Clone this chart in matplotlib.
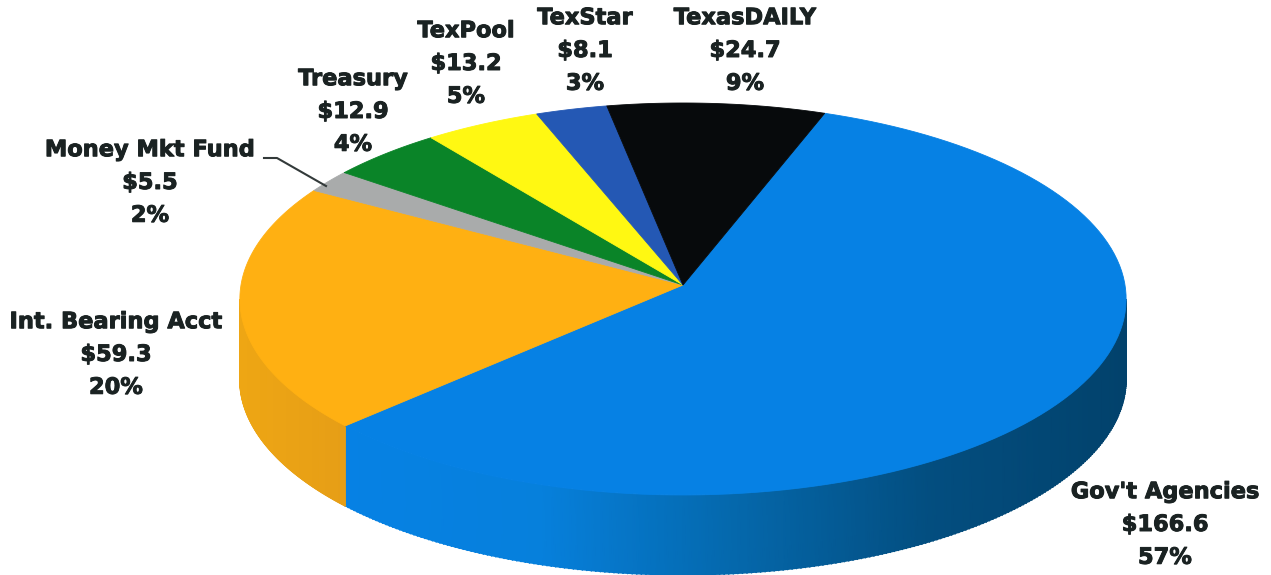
"""Holdings by type, drawn as a tilted 3-D pie with a shaded rim."""

import numpy as np
import matplotlib
matplotlib.use("Agg")
import matplotlib.pyplot as plt
import matplotlib.patheffects as pe
from matplotlib.colors import LinearSegmentedColormap

# clockwise from the start angle
names = ["Gov't Agencies", "Int. Bearing Acct", "Money Mkt Fund", "Treasury",
         "TexPool", "TexStar", "TexasDAILY"]
amounts = [166.6, 59.3, 5.5, 12.9, 13.2, 8.1, 24.7]
shares = [57, 20, 2, 4, 5, 3, 9]
colors = ["#0681e4", "#ffb012", "#a9abab", "#0a8428", "#fff812", "#2458b4", "#070a0c"]

label_x = [1165, 116, 150, 353, 466, 585, 745]
label_y = [525, 355, 183, 112, 64, 51, 51]

CX, CY = 683, 285      # pie centre, in pixels
RX, RY = 442, 195      # radii before foreshortening
PERSP = 0.0714         # far edge shrinks, near edge grows
DEPTH = 80
START = 70.0           # degrees, where the first slice begins

W, H = 1271, 575


def rim(a_from, a_to, n=120, dy=0.0):
    a = np.radians(np.linspace(a_from, a_to, n))
    w = 1 + PERSP * np.sin(a)
    return CX + RX * np.cos(a) / w, CY - RY * np.sin(a) / w + dy


def draw_side(ax, a_from, a_to, cmap, x0, x1):
    # rim wall, shaded left to right
    xt, yt = rim(a_from, a_to, 240)
    xb, yb = rim(a_from, a_to, 240, dy=DEPTH)
    X = np.vstack([xt, xb])
    Y = np.vstack([yt, yb])
    ax.pcolormesh(X, Y, X, shading="gouraud", cmap=cmap, vmin=x0, vmax=x1, zorder=1)
    ax.scatter(xb, yb, c=xb, cmap=cmap, vmin=x0, vmax=x1, s=1.5, lw=0, zorder=1)


def main():
    fig = plt.figure(figsize=(W / 100, H / 100), dpi=100)
    ax = fig.add_axes([0, 0, 1, 1])
    ax.set_xlim(0, W)
    ax.set_ylim(H, 0)
    ax.axis("off")

    vals = np.array(amounts)
    sweep = vals / vals.sum() * 360
    ends = START - np.cumsum(sweep)
    starts = np.r_[START, ends[:-1]]

    blue_side = LinearSegmentedColormap.from_list(
        "blue_side", [(0, "#0681e4"), (0.25, "#0680dc"), (0.5, "#0568ac"),
                      (0.75, "#034e80"), (1, "#02426c")])
    orange_side = LinearSegmentedColormap.from_list(
        "orange_side", [(0, "#eea614"), (1, "#e69e16")])

    # only the slices that reach the front of the pie show a wall
    seam = rim(ends[0], ends[0], 1)[0][0]
    draw_side(ax, ends[0], -4.1, blue_side, seam, CX + RX)
    draw_side(ax, 184.1, 360 + ends[0], orange_side, CX - RX, seam)

    for a0, a1, c in zip(starts, ends, colors):
        x, y = rim(a0, a1)
        ax.fill(np.r_[CX, x], np.r_[CY, y], color=c, lw=0.6, zorder=2)

    # the one leader line
    ax.plot([264, 277, 326], [158, 158, 186], color="#333a3a", lw=1.5, zorder=3)

    heavy = [pe.withStroke(linewidth=0.7, foreground="#1a2222")]
    for name, amt, pct, lx, ly in zip(names, amounts, shares, label_x, label_y):
        ax.text(lx, ly, f"{name}\n${amt:.1f}\n{pct}%", ha="center", va="center",
                family="DejaVu Sans", fontweight="bold", fontsize=16.2,
                color="#1a2222", linespacing=1.8, zorder=4, path_effects=heavy)

    fig.savefig("out.png", dpi=100)


if __name__ == "__main__":
    main()
